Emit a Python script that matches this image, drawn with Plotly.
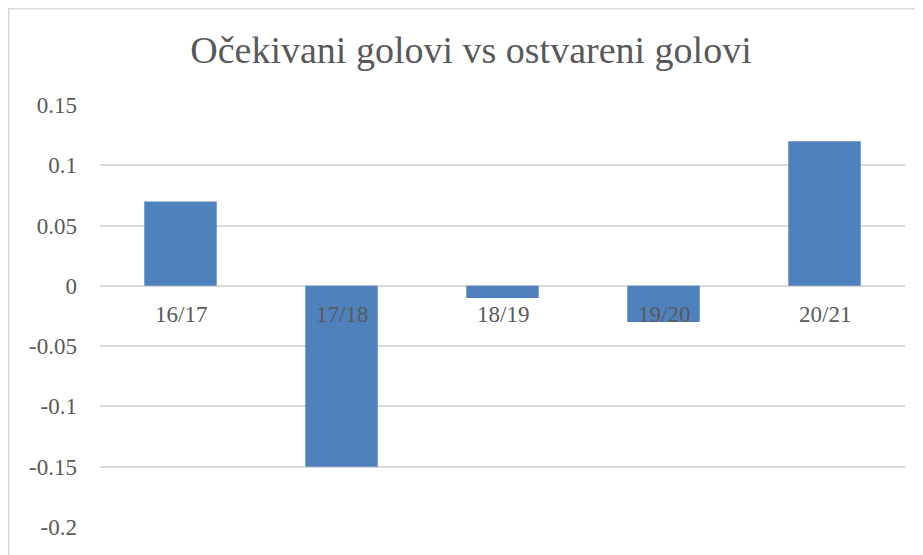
import plotly.graph_objects as go

categories = ["16/17", "17/18", "18/19", "19/20", "20/21"]
values = [0.07, -0.15, -0.01, -0.03, 0.12]
y_ticks = [0.15, 0.1, 0.05, 0, -0.05, -0.1, -0.15, -0.2]
y_tick_labels = ["0.15", "0.1", "0.05", "0", "-0.05", "-0.1", "-0.15", "-0.2"]
title = "Očekivani golovi vs ostvareni golovi"

FONT = "Liberation Serif"
TXT = "#595959"

W, H = 923, 555
L, R, T, B = 92, 26, 97, 36
PW, PH = W - L - R, H - T - B

fig = go.Figure()
fig.add_trace(go.Bar(x=categories, y=values, marker=dict(color="#4f81bd", line=dict(width=0)), width=0.45))

for c in categories:
    fig.add_annotation(x=c, y=0, xref="x", yref="y", text=c, showarrow=False,
                       yanchor="top", yshift=-14, font=dict(family=FONT, size=23, color=TXT))

fig.update_layout(
    width=W, height=H,
    margin=dict(l=L, r=R, t=T, b=B),
    paper_bgcolor="white", plot_bgcolor="white",
    title=dict(text=title, x=0.5016, xanchor="center", y=0.924, yanchor="middle",
               font=dict(family=FONT, size=38, color=TXT)),
    showlegend=False,
    xaxis=dict(showticklabels=False, showgrid=False, zeroline=False, showline=False, ticks=""),
    yaxis=dict(range=[-0.2, 0.15], tickvals=y_ticks, ticktext=y_tick_labels,
               showgrid=True, gridcolor="#d9d9d9", gridwidth=1.5,
               zeroline=True, zerolinecolor="#d9d9d9", zerolinewidth=1.5,
               showline=False, ticks="", ticklabelstandoff=22,
               tickfont=dict(family=FONT, size=23, color=TXT)),
    shapes=[dict(type="rect", xref="paper", yref="paper",
                 x0=(0.75 - L) / PW, x1=(W + 20 - L) / PW,
                 y0=-(B + 20) / PH, y1=1 + (T - 0.75) / PH,
                 line=dict(color="#d9d9d9", width=1.5), fillcolor="rgba(0,0,0,0)", layer="below")],
)

fig.write_html("out.html")
